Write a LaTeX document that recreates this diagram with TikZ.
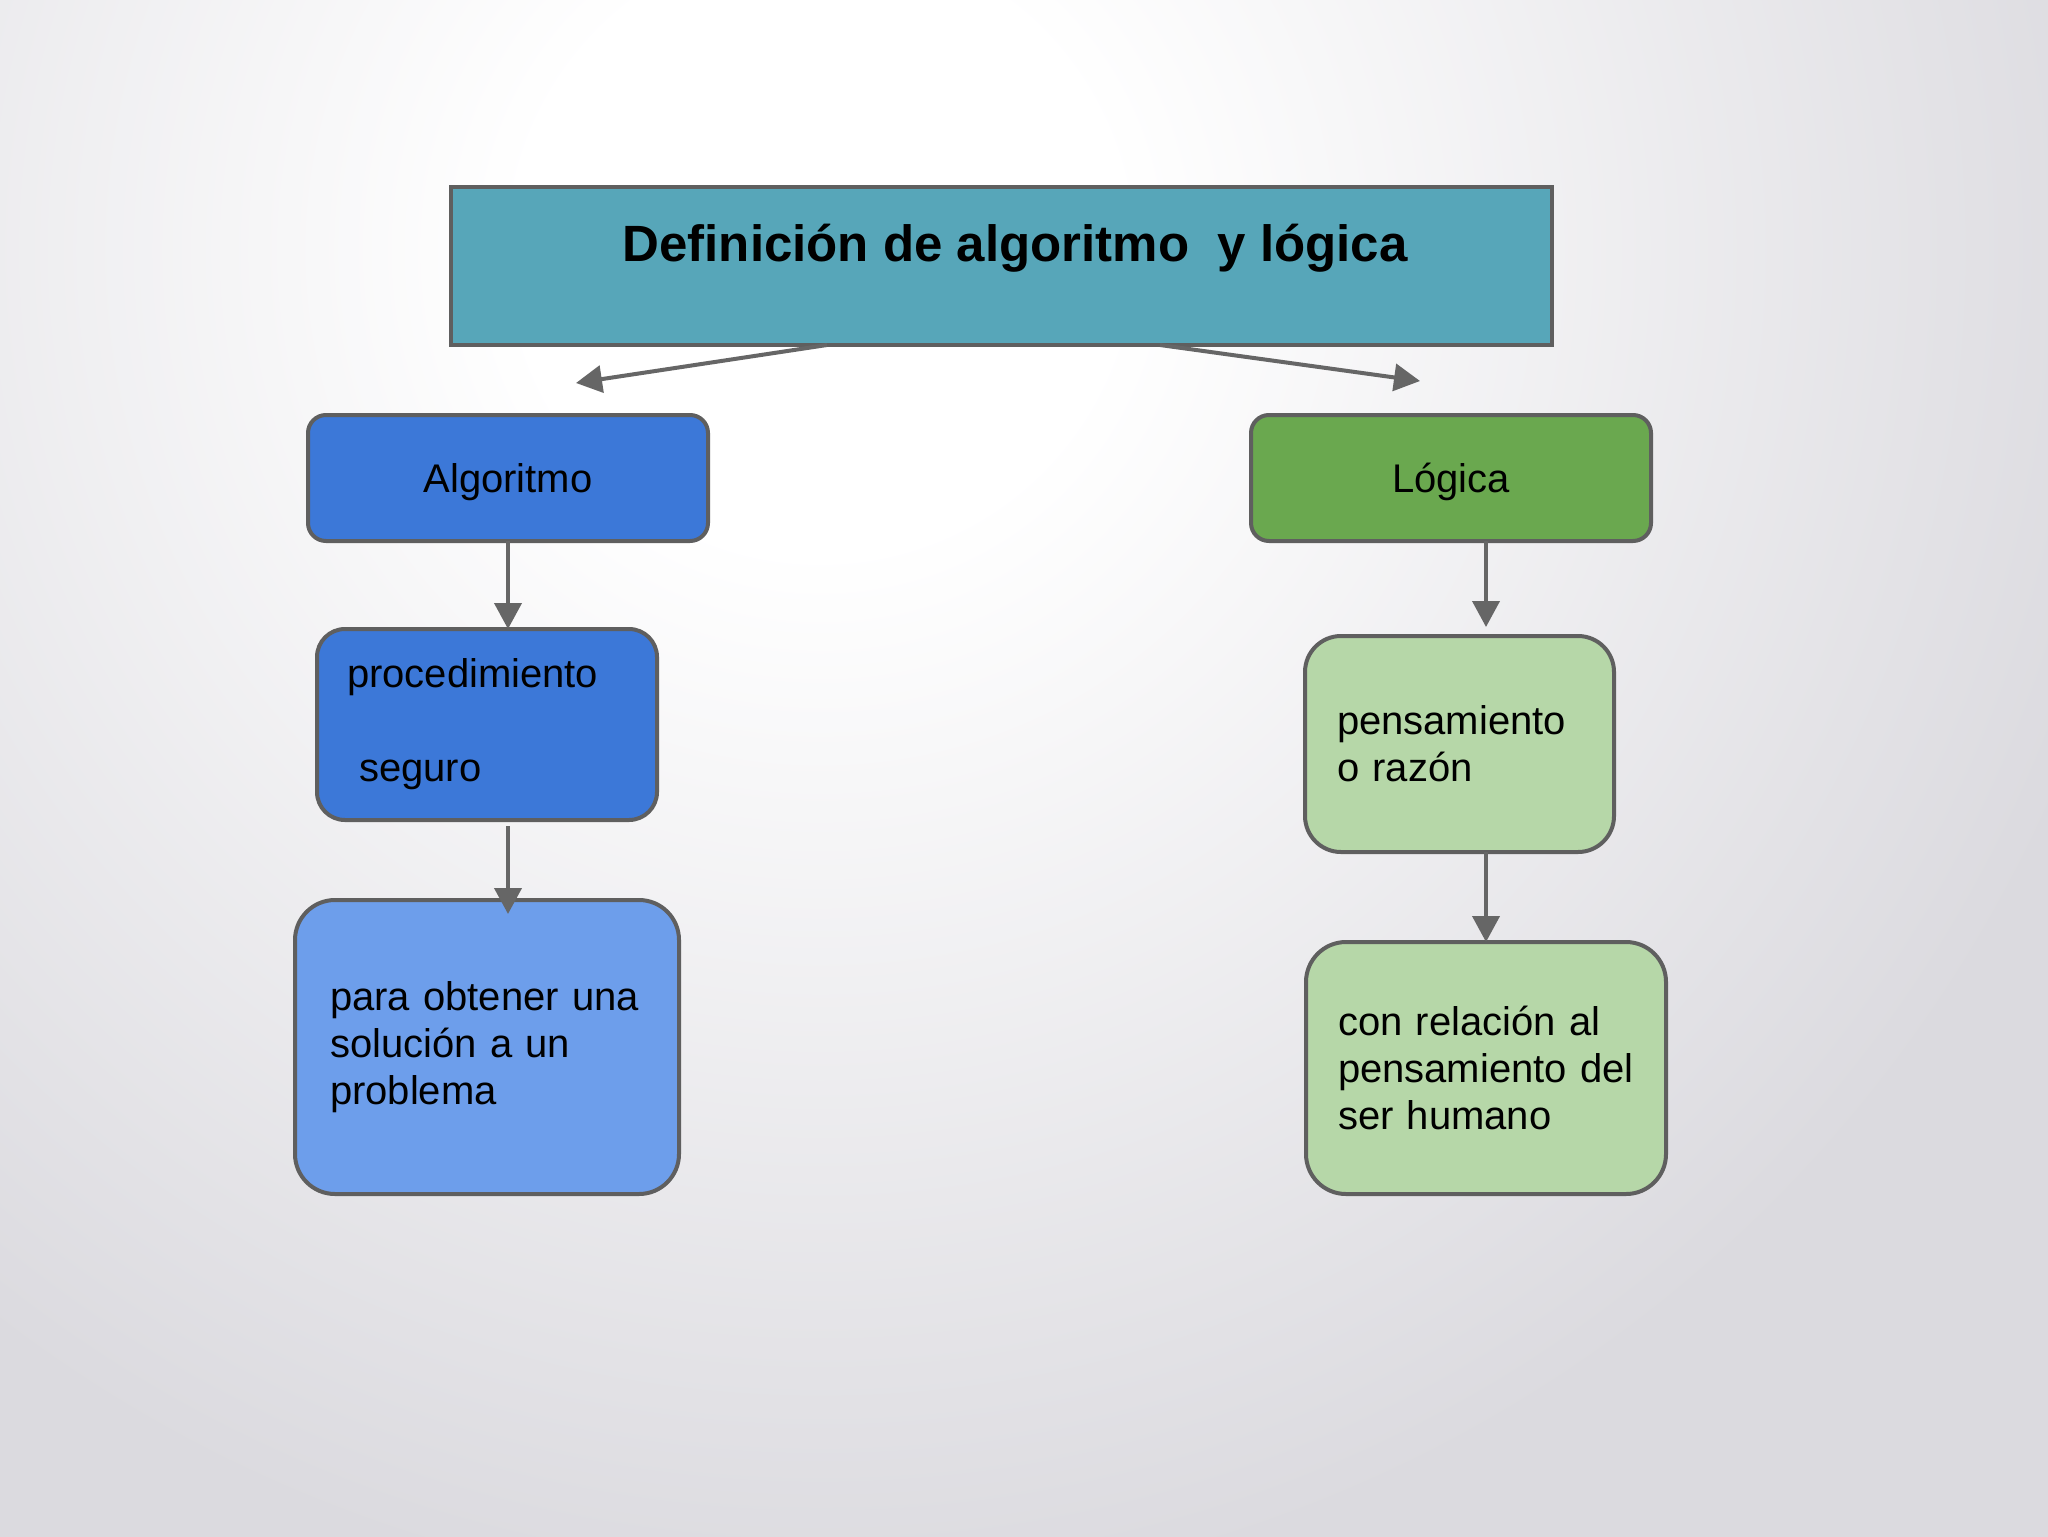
\documentclass[tikz,border=0pt]{standalone}
\usepackage{fontspec}
\setmainfont{Liberation Sans}
\usetikzlibrary{arrows.meta}
\definecolor{bggray}{RGB}{219,218,223}
\definecolor{titlefill}{RGB}{87,166,185}
\definecolor{algblue}{RGB}{60,120,216}
\definecolor{loggreen}{RGB}{106,168,79}
\definecolor{parablue}{RGB}{109,158,235}
\definecolor{lightgreen}{RGB}{182,215,168}
\definecolor{bordergray}{RGB}{95,95,95}
\definecolor{arrowgray}{RGB}{102,102,102}
\pgfdeclareradialshading{bgshade}{\pgfpoint{0bp}{0bp}}{color(0bp)=(white); color(3.75bp)=(white); color(17bp)=(bggray); color(50bp)=(bggray)}
\begin{document}
\begin{tikzpicture}[x=0.5pt,y=-0.5pt,
  box/.style={draw=bordergray, line width=2pt, inner sep=0pt, outer sep=0pt, text=black, font=\fontsize{20}{23.5}\selectfont},
  titlebox/.style={draw=bordergray, line width=2pt, fill=titlefill, inner sep=0pt, outer sep=0pt},
  titletext/.style={font=\fontsize{25.5}{30}\selectfont\bfseries, text=black, inner sep=0pt},
  conn/.style={draw=arrowgray, line width=2pt, -{Triangle[length=13pt,width=13.5pt]}}]
\path[use as bounding box] (0,0) rectangle (2048,1536);
\fill[bggray] (0,0) rectangle (2048,1536);
\begin{scope}
\clip (0,0) rectangle (2048,1536);
\shade[shading=bgshade] (820,250) circle [radius=1000pt];
\end{scope}

\node[titlebox, minimum width=550.5pt, minimum height=79pt] (title) at (1001.5,266) {};
\node[titletext, anchor=base] (titletext) at (1015,261) {Definición de algoritmo\ \ y lógica};

\node[box, fill=algblue, rounded corners=9pt, minimum width=200pt, minimum height=63pt, text height=14.5pt, text depth=0pt] (alg) at (508,478) {Algoritmo};
\node[box, fill=loggreen, rounded corners=9pt, minimum width=200pt, minimum height=63pt, text height=14.5pt, text depth=0pt] (log) at (1451,478) {Lógica};

\node[box, fill=algblue, rounded corners=14pt, minimum width=170pt, minimum height=95.5pt, text width=140pt, align=left] (proc) at (487,724.5) {procedimiento\\[23.5pt]\hspace*{6pt}seguro};
\node[box, fill=parablue, rounded corners=20pt, minimum width=192pt, minimum height=147pt, text width=157pt, align=left] (para) at (487,1047) {para obtener una\\solución a un\\problema};

\node[box, fill=lightgreen, rounded corners=18pt, minimum width=154.5pt, minimum height=108pt, text width=122.5pt, align=left] (pens) at (1459.5,744) {pensamiento\\o razón};
\node[box, fill=lightgreen, rounded corners=20pt, minimum width=180pt, minimum height=126pt, text width=148pt, align=left] (con) at (1486,1068) {con relación al\\pensamiento del\\ser humano};

\coordinate (la) at (576,383);
\coordinate (ra) at (1420,381);
\draw[conn] ([xshift=-87.25pt]title.south) -- (la);
\draw[conn] ([xshift=79.25pt]title.south) -- (ra);
\draw[conn] (alg.south) -- (proc.north -| alg.south);
\draw[conn, shorten <=3pt, shorten >=-7pt] (proc.south -| alg.south) -- (para.north -| alg.south);
\draw[conn, shorten >=4.5pt] (log.south -| con.north) -- (pens.north -| con.north);
\draw[conn] (pens.south -| con.north) -- (con.north);
\end{tikzpicture}
\end{document}
